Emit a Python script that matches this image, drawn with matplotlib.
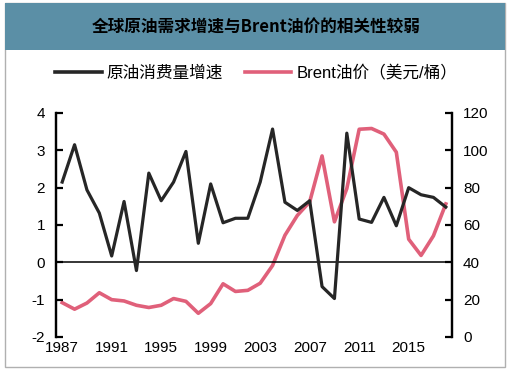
import matplotlib.pyplot as plt
from matplotlib.patches import Rectangle
from matplotlib.lines import Line2D

plt.rcParams['font.family'] = ['Liberation Sans', 'Noto Sans CJK SC', 'DejaVu Sans']
plt.rcParams['axes.unicode_minus'] = False

years = list(range(1987, 2019))
demand_growth = [2.15, 3.15, 1.94, 1.32, 0.17, 1.63, -0.22, 2.39, 1.65, 2.15,
                 2.97, 0.51, 2.10, 1.06, 1.18, 1.18, 2.15, 3.57, 1.61, 1.39,
                 1.65, -0.65, -0.97, 3.46, 1.16, 1.07, 1.74, 0.98, 2.00, 1.81,
                 1.74, 1.48]
brent = [18.4, 14.9, 18.2, 23.7, 20.0, 19.3, 17.0, 15.8, 17.0, 20.6,
         19.1, 12.7, 17.9, 28.5, 24.4, 25.0, 28.8, 38.3, 54.5, 65.1,
         72.4, 97.0, 61.7, 79.5, 111.3, 111.7, 108.7, 99.0, 52.4, 43.7,
         54.2, 71.3]
xticks = [1987, 1991, 1995, 1999, 2003, 2007, 2011, 2015]

fig = plt.figure(figsize=(5.12, 3.71), dpi=100)

# frame and title bar
fig.patches.append(Rectangle((5/512, 4/371), 500/512, 364/371, transform=fig.transFigure,
                             facecolor='none', edgecolor='#b0b0b0', lw=1))
fig.patches.append(Rectangle((5/512, 1 - 50/371), 500/512, 47/371, transform=fig.transFigure,
                             facecolor='#5b8fa6', edgecolor='none'))
fig.text(0.5, 1 - 27/371, '全球原油需求增速与Brent油价的相关性较弱', ha='center', va='center',
         fontsize=12, fontweight='bold', color='black',
         family=['Noto Sans CJK SC', 'DejaVu Sans'])

ax = fig.add_axes([56/512, 1 - 337/371, 396/512, 224/371])
ax2 = ax.twinx()

black = '#262626'
pink = '#e0607a'
ax.plot(years, demand_growth, color=black, lw=2.3, zorder=3)
ax2.plot(years, brent, color=pink, lw=2.6, zorder=3)
ax.axhline(0, color='black', lw=1.1, zorder=2)

ax.set_xlim(1986.5, 2018.5)
ax.set_ylim(-2, 4)
ax2.set_ylim(0, 120)
ax.set_xticks(xticks)
ax.set_yticks(range(-2, 5))
ax2.set_yticks(range(0, 121, 20))

for a in (ax, ax2):
    a.spines['top'].set_visible(False)
    a.spines['bottom'].set_visible(False)
    a.spines['left'].set_linewidth(1.6)
    a.spines['right'].set_linewidth(1.6)
ax.tick_params(axis='y', direction='in', length=5, width=1.6, labelsize=11, pad=8)
ax2.tick_params(axis='y', direction='in', length=5, width=1.6, labelsize=11, pad=8)
ax.tick_params(axis='x', length=0, labelsize=11, pad=3)

ax.set_zorder(ax2.get_zorder() + 1)
ax.patch.set_visible(False)

handles = [Line2D([], [], color=black, lw=2.6), Line2D([], [], color=pink, lw=2.6)]
fig.legend(handles, ['原油消费量增速', 'Brent油价（美元/桶）'], loc='center',
           bbox_to_anchor=(0.5, 1 - 73/371), ncol=2, frameon=False, fontsize=12,
           handlelength=2.8, columnspacing=1.3, handletextpad=0.3)

fig.savefig('out.png', dpi=100)
